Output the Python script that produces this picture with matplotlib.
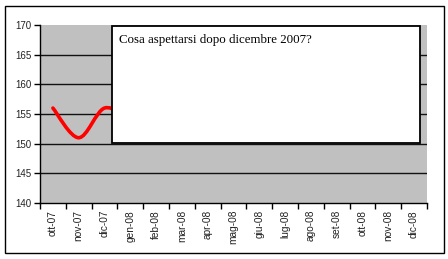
"""plot.py — Excel-style line chart with a callout box, redrawn in matplotlib."""
import matplotlib
matplotlib.use("Agg")
import matplotlib.pyplot as plt
from matplotlib.patches import Rectangle
from matplotlib.path import Path
from matplotlib.patches import PathPatch

months = ["ott-07", "nov-07", "dic-07", "gen-08", "feb-08", "mar-08", "apr-08",
          "mag-08", "giu-08", "lug-08", "ago-08", "set-08", "ott-08", "nov-08", "dic-08"]
# known values, the gen-08 one sits behind the box
values = [156, 151, 156, 154]
y_ticks = [140, 145, 150, 155, 160, 165, 170]
note = "Cosa aspettarsi dopo dicembre 2007?"


def smooth_path(xs, ys):
    # Catmull-Rom style smoothing turned into cubic bezier segments
    verts = [(xs[0], ys[0])]
    codes = [Path.MOVETO]
    n = len(xs)
    for i in range(n - 1):
        x0, y0 = (xs[i - 1], ys[i - 1]) if i > 0 else (xs[i], ys[i])
        x1, y1 = xs[i], ys[i]
        x2, y2 = xs[i + 1], ys[i + 1]
        x3, y3 = (xs[i + 2], ys[i + 2]) if i + 2 < n else (x2, y2)
        c1 = (x1 + (x2 - x0) / 6, y1 + (y2 - y0) / 6)
        c2 = (x2 - (x3 - x1) / 6, y2 - (y3 - y1) / 6)
        verts += [c1, c2, (x2, y2)]
        codes += [Path.CURVE4] * 3
    return Path(verts, codes)


fig = plt.figure(figsize=(4.48, 2.59), dpi=100)
fig.patch.set_facecolor("white")
fig.patches.append(Rectangle((5 / 448, 6 / 259), 439 / 448, 247 / 259,
                             transform=fig.transFigure, fill=False,
                             edgecolor="black", linewidth=1))

ax = fig.add_axes([40 / 448, 56 / 259, 387 / 448, 178 / 259])
ax.set_facecolor("#c0c0c0")
ax.set_xlim(0, len(months))
ax.set_ylim(140, 170)

ax.set_yticks(y_ticks)
ax.set_yticklabels([str(t) for t in y_ticks], fontsize=7, family="Liberation Sans",
                   color="#222222")
for t in y_ticks[1:-1]:
    ax.axhline(t, color="#111111", linewidth=1, zorder=1)

ax.set_xticks(range(len(months) + 1), minor=True)
ax.set_xticks([i + 0.5 for i in range(len(months))])
ax.set_xticklabels(months, rotation=90, fontsize=7.3, family="Liberation Sans",
                   color="#222222")
ax.tick_params(axis="x", which="major", length=0, pad=5)
ax.tick_params(axis="x", which="minor", length=4, width=1)
ax.tick_params(axis="y", length=4, width=1, pad=2)

for side in ("top", "right"):
    ax.spines[side].set_visible(False)
ax.spines["left"].set_linewidth(1)
ax.spines["bottom"].set_linewidth(1)

xs = [i + 0.5 for i in range(len(values))]
ax.add_patch(PathPatch(smooth_path(xs, values), fill=False, edgecolor="#ff0000",
                       linewidth=2.6, capstyle="round", zorder=3))

# the callout box that covers the future months
ax.add_patch(Rectangle((0.186, 0.335), 0.797, 0.659, transform=ax.transAxes,
                       facecolor="white", edgecolor="black", linewidth=1.3, zorder=5))
ax.text(0.204, 0.915, note, transform=ax.transAxes, family="Liberation Serif",
        fontsize=9.3, va="center", ha="left", zorder=6)

fig.savefig("out.png", dpi=100)
